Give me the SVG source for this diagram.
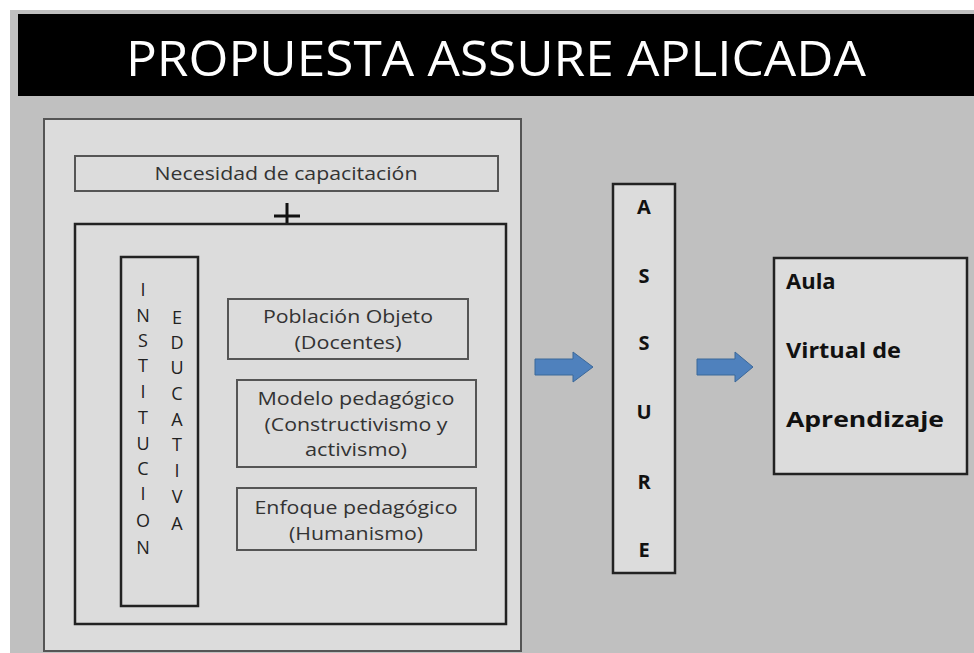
<svg xmlns="http://www.w3.org/2000/svg" width="974" height="653" viewBox="0 0 974 653">
<style>
.box{fill:#dcdcdc;stroke:#555;stroke-width:2}
.dbox{fill:#dcdcdc;stroke:#222;stroke-width:2.5}
.t{font-family:"Open Sans","Liberation Sans",sans-serif;font-size:19px;fill:#333;text-anchor:middle}
.v{font-family:"Open Sans","Liberation Sans",sans-serif;font-size:18px;fill:#222;text-anchor:middle}
.b{font-family:"Open Sans","Liberation Sans",sans-serif;font-weight:bold;fill:#111}
.arrow{fill:#4f81bd;stroke:#3b6899;stroke-width:1}
</style>
<rect x="0" y="0" width="974" height="653" fill="#ffffff"/>
<rect x="10" y="10" width="964" height="643" fill="#c0c0c0"/>
<g id="title">
<rect x="18" y="14" width="956" height="82" fill="#000"/>
<text x="496" y="76" font-family="Open Sans, Liberation Sans, sans-serif" font-size="50" fill="#fff" text-anchor="middle" textLength="740" lengthAdjust="spacingAndGlyphs">PROPUESTA ASSURE APLICADA</text>
</g>
<g id="panel">
<rect class="box" x="44" y="119" width="477" height="532"/>
</g>
<g id="necesidad">
<rect class="box" x="75" y="156" width="423" height="35"/>
<text class="t" x="286" y="180" textLength="263" lengthAdjust="spacingAndGlyphs">Necesidad de capacitación</text>
</g>
<g id="plus">
<path d="M274 216 H300 M287 203 V229" stroke="#111" stroke-width="3"/>
</g>
<g id="contexto">
<rect class="dbox" x="75" y="224" width="431" height="400"/>
</g>
<g id="institucion">
<rect class="dbox" x="121" y="257" width="77" height="349"/>
<g class="v">
<text x="143" y="296">I</text>
<text x="143" y="322">N</text>
<text x="143" y="347">S</text>
<text x="143" y="372">T</text>
<text x="143" y="398">I</text>
<text x="143" y="424">T</text>
<text x="143" y="450">U</text>
<text x="143" y="475">C</text>
<text x="143" y="500">I</text>
<text x="143" y="527">O</text>
<text x="143" y="554">N</text>
<text x="177" y="324">E</text>
<text x="177" y="349">D</text>
<text x="177" y="374">U</text>
<text x="177" y="400">C</text>
<text x="177" y="426">A</text>
<text x="177" y="451">T</text>
<text x="177" y="477">I</text>
<text x="177" y="503">V</text>
<text x="177" y="530">A</text>
</g>
</g>
<g id="poblacion">
<rect class="box" x="228" y="299" width="240" height="60"/>
<text class="t" x="348" y="323" textLength="170" lengthAdjust="spacingAndGlyphs">Población Objeto</text>
<text class="t" x="348" y="349" textLength="107" lengthAdjust="spacingAndGlyphs">(Docentes)</text>
</g>
<g id="modelo">
<rect class="box" x="237" y="380" width="239" height="87"/>
<text class="t" x="356" y="405" textLength="197" lengthAdjust="spacingAndGlyphs">Modelo pedagógico</text>
<text class="t" x="356" y="431" textLength="183" lengthAdjust="spacingAndGlyphs">(Constructivismo y</text>
<text class="t" x="356" y="456" textLength="102" lengthAdjust="spacingAndGlyphs">activismo)</text>
</g>
<g id="enfoque">
<rect class="box" x="237" y="488" width="239" height="62"/>
<text class="t" x="356" y="514" textLength="203" lengthAdjust="spacingAndGlyphs">Enfoque pedagógico</text>
<text class="t" x="356" y="540" textLength="134" lengthAdjust="spacingAndGlyphs">(Humanismo)</text>
</g>
<g id="assure">
<rect class="dbox" x="613" y="184" width="62" height="389"/>
<g class="b" font-size="20" text-anchor="middle">
<text x="644" y="214">A</text>
<text x="644" y="283">S</text>
<text x="644" y="350">S</text>
<text x="644" y="419">U</text>
<text x="644" y="489">R</text>
<text x="644" y="557">E</text>
</g>
</g>
<g id="aula">
<rect class="dbox" x="774" y="258" width="193" height="216"/>
<g class="b" font-size="22">
<text x="786" y="289">Aula</text>
<text x="786" y="358" textLength="115" lengthAdjust="spacingAndGlyphs">Virtual de</text>
<text x="786" y="427" textLength="158" lengthAdjust="spacingAndGlyphs">Aprendizaje</text>
</g>
</g>
<g id="connectors">
<path class="arrow" d="M535 359 H573 V352 L593 367 L573 382 V375 H535 Z"/>
<path class="arrow" d="M697 359 H735 V352 L753 367 L735 382 V375 H697 Z"/>
</g>
</svg>
